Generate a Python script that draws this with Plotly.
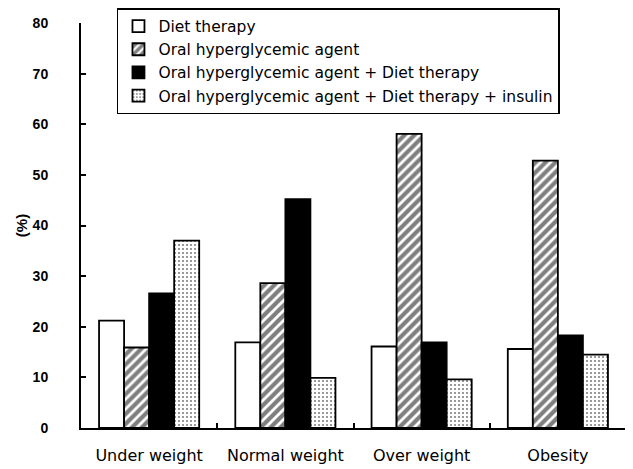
import plotly.graph_objects as go

categories = ["Under weight", "Normal weight", "Over weight", "Obesity"]
series_names = [
    "Diet therapy",
    "Oral hyperglycemic agent",
    "Oral hyperglycemic agent + Diet therapy",
    "Oral hyperglycemic agent + Diet therapy + insulin",
]
diet = [21.2, 16.9, 16.1, 15.6]
oral = [15.9, 28.6, 58.1, 52.8]
oral_diet = [26.6, 45.2, 16.9, 18.3]
oral_diet_insulin = [37.0, 9.9, 9.6, 14.5]
y_ticks = [0, 10, 20, 30, 40, 50, 60, 70, 80]

FONT = "Liberation Sans, Arial, sans-serif"
WIDE = "DejaVu Sans, sans-serif"

styles = [
    dict(color="white", pattern=dict(shape="")),
    dict(color="white", pattern=dict(shape="/", fgcolor="black", bgcolor="white", size=7, solidity=0.6)),
    dict(color="black", pattern=dict(shape="")),
    dict(color="white", pattern=dict(shape=".", fgcolor="black", bgcolor="white", size=4, solidity=0.22)),
]

fig = go.Figure()
for i, (name, vals) in enumerate(zip(series_names, [diet, oral, oral_diet, oral_diet_insulin])):
    st = styles[i]
    fig.add_trace(go.Bar(
        x=categories, y=vals, name=name, legendgroup=f"g{i}",
        marker=dict(color=st["color"], pattern=st["pattern"],
                    line=dict(color="black", width=1.8)),
    ))

fig.update_layout(
    width=625, height=461,
    margin=dict(l=73, r=7, t=15, b=41, autoexpand=False),
    paper_bgcolor="white", plot_bgcolor="white",
    barmode="group", bargap=0.265, bargroupgap=0,
    font=dict(family=FONT, color="black"),
    showlegend=True,
    legend=dict(
        x=0.066, y=1.037, xanchor="left", yanchor="top",
        bordercolor="black", borderwidth=1.5, bgcolor="white",
        font=dict(family=WIDE, size=15.5, color="black"),
        traceorder="grouped", tracegroupgap=0,
        itemwidth=30,
    ),
    xaxis=dict(
        showline=True, linecolor="black", linewidth=2,
        ticks="inside", tickson="boundaries", ticklen=5, tickcolor="black", tickwidth=2,
        tickfont=dict(family=WIDE, size=16, color="black"),
        ticklabelstandoff=12,
        range=[-0.5, 3.5], showgrid=False, automargin=False,
    ),
    yaxis=dict(
        range=[0, 80], tickvals=y_ticks,
        showline=True, linecolor="black", linewidth=2,
        ticks="inside", ticklen=5, tickcolor="black", tickwidth=2,
        tickfont=dict(family=FONT, size=14, color="black", weight="bold"),
        ticklabelstandoff=28,
        showgrid=False, zeroline=False, automargin=False,
        title=dict(text="(%)", font=dict(family=FONT, size=15, color="black", weight="bold"), standoff=1),
    ),
)

fig.write_html("out.html")
